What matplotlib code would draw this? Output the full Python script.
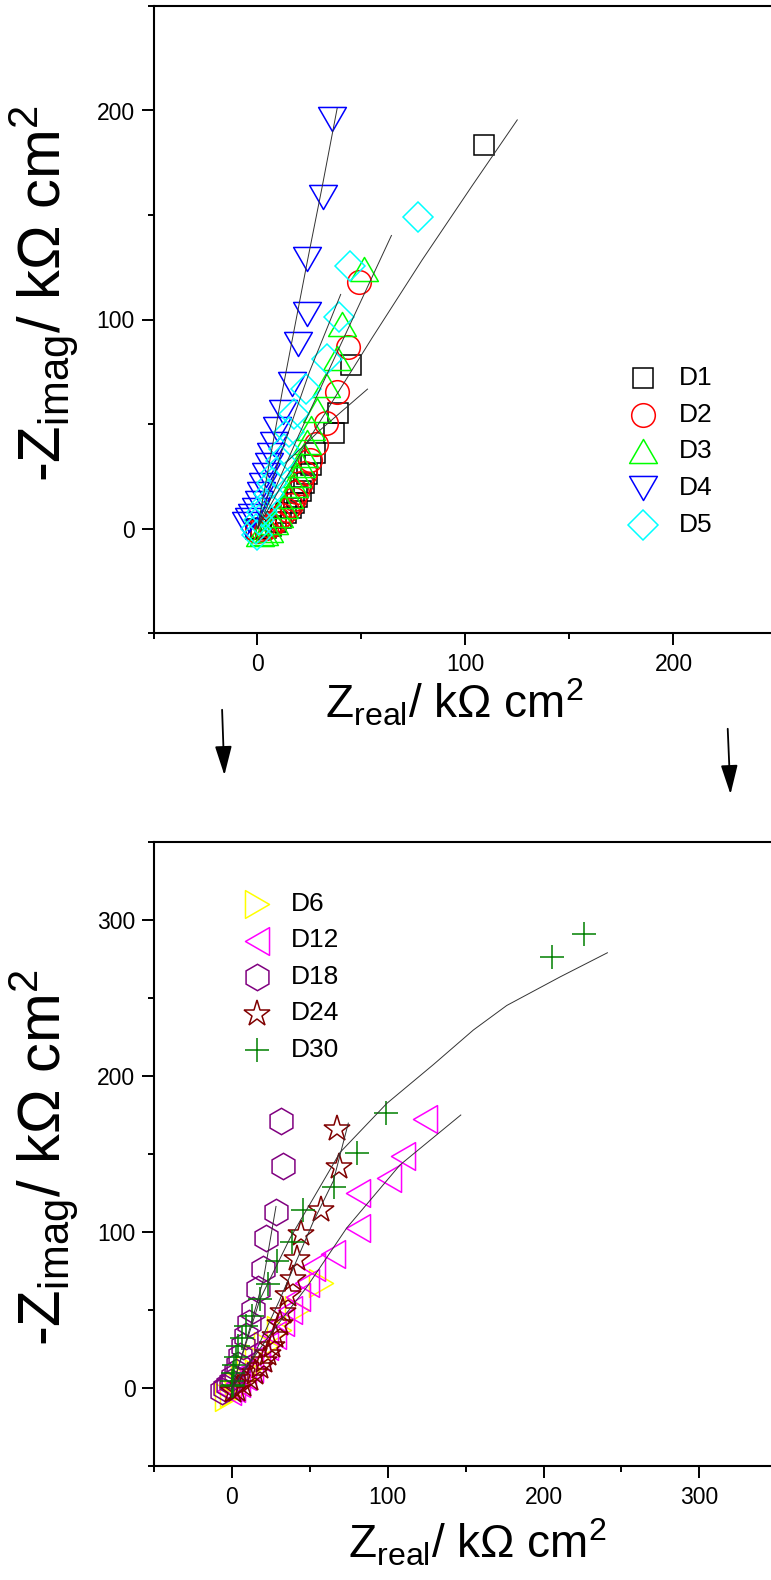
import matplotlib

matplotlib.use("Agg")
import matplotlib.pyplot as plt
from matplotlib.path import Path

plt.rcParams["font.family"] = ["Liberation Sans", "DejaVu Sans"]
plt.rcParams["mathtext.fontset"] = "custom"
plt.rcParams["mathtext.rm"] = "Liberation Sans"
plt.rcParams["mathtext.it"] = "Liberation Sans:italic"
plt.rcParams["mathtext.bf"] = "Liberation Sans:bold"

# ---------------------------------------------------------------------------
# top panel, days 1-5 (kOhm cm2)
D1_x = [108.8, 44.9, 38.5, 36.6, 27.6, 25.6, 24.0, 22.4, 20.8, 19.2, 17.6, 16.0, 13.6, 11.2, 8.8, 6.4, 4.0, 1.6, -0.8]
D1_y = [183.7, 78.4, 55.5, 45.7, 35.9, 30.4, 25.9, 21.6, 18.0, 15.1, 12.4, 9.8, 7.3, 4.9, 2.9, 1.4, 0.4, -0.2, -0.4]
D2_x = [48.7, 43.5, 38.3, 32.7, 28.0, 25.2, 22.7, 20.8, 19.2, 17.6, 16.0, 14.0, 12.0, 10.0, 8.0, 6.0, 4.0, 2.0, 0.0]
D2_y = [117.8, 86.9, 65.3, 50.4, 40.2, 32.7, 26.5, 21.6, 17.6, 14.3, 11.4, 8.8, 6.5, 4.5, 2.8, 1.4, 0.4, -0.4, -1.0]
D3_x = [51.1, 40.7, 38.3, 32.7, 28.8, 25.9, 24.0, 22.4, 20.8, 19.2, 17.6, 15.2, 12.8, 10.4, 8.0, 5.6, 3.0, 1.0]
D3_y = [124.1, 98.0, 81.4, 68.6, 56.9, 48.0, 41.2, 35.3, 30.4, 25.5, 20.6, 15.7, 10.8, 6.5, 2.9, -0.6, -2.0, -2.5]
D4_x = [35.8, 31.5, 24.0, 24.0, 19.5, 16.5, 12.1, 9.6, 8.0, 6.5, 5.3, 4.0, 2.7, 1.8, 0.8, -0.5, -2.4, -4.0, -5.3]
D4_y = [196.1, 158.4, 129.0, 102.5, 88.2, 69.2, 55.9, 47.6, 40.6, 35.3, 30.4, 25.5, 20.6, 16.3, 12.4, 8.8, 5.9, 3.9, 2.0]
D5_x = [77.2, 44.6, 39.1, 33.5, 23.2, 17.6, 15.2, 12.8, 11.2, 8.8, 7.2, 5.6, 4.0, 2.4, 0.8, -0.8, 0.0]
D5_y = [149.0, 125.5, 101.4, 81.0, 66.7, 54.9, 46.1, 38.2, 32.4, 26.5, 21.6, 16.7, 11.8, 7.8, 3.9, 0.0, -3.0]

# fitted curves drawn through the top panel
F1_x = [0.0, 10.4, 23.2, 39.1, 55.1, 79.1, 103.0, 124.9]
F1_y = [0.0, 18.6, 40.2, 65.7, 91.2, 128.4, 163.7, 195.5]
F3_x = [0.0, 20.0, 40.0, 64.4]
F3_y = [0.0, 45.0, 88.0, 140.2]
F2_x = [13.6, 30.0, 52.9]
F2_y = [31.4, 47.0, 66.7]
F4_x = [0.0, 4.0, 12.0, 24.0, 31.0, 38.3]
F4_y = [0.0, 22.0, 66.0, 128.0, 163.0, 201.0]
F5_x = [0.0, 12.0, 25.0, 40.0]
F5_y = [0.0, 38.0, 75.0, 112.0]

# bottom panel, days 6-30
D6_x = [57.2, 42.0, 30.0, 22.0, 16.0, 11.0, 7.0, 3.0, 0.0, -3.0]
D6_y = [67.2, 50.0, 37.0, 27.0, 19.0, 12.0, 6.0, 1.0, -3.0, -6.0]
D12_x = [124.0, 110.0, 100.9, 81.2, 81.2, 64.7, 52.2, 48.0, 42.6, 37.3, 32.0, 27.0, 22.0, 17.0, 12.0, 8.0, 4.0, 1.0, -2.0]
D12_y = [172.7, 148.4, 134.7, 125.3, 102.6, 86.1, 77.7, 67.2, 58.1, 50.2, 42.0, 34.0, 27.0, 20.0, 13.0, 8.0, 3.0, 0.0, -2.0]
D18_x = [31.5, 32.5, 28.3, 21.8, 20.1, 16.7, 13.7, 10.9, 9.0, 7.3, 5.5, 4.0, 2.5, 1.0, -0.5, -2.4, -4.5, -6.6]
D18_y = [170.9, 142.6, 113.0, 96.0, 76.4, 63.3, 50.2, 41.6, 33.2, 26.7, 20.5, 15.0, 10.5, 7.0, 4.0, 1.8, 0.0, -2.0]
D24_x = [67.7, 69.0, 57.2, 44.1, 41.8, 39.4, 36.2, 32.5, 30.8, 27.6, 25.5, 23.3, 20.6, 18.0, 14.8, 11.6, 7.3, 3.0, 0.5]
D24_y = [165.9, 141.5, 114.3, 98.6, 82.9, 69.9, 59.4, 48.9, 41.1, 33.2, 26.7, 21.5, 17.5, 13.6, 9.7, 5.8, 1.8, -1.0, -2.0]
D30_x = [226.0, 205.6, 98.9, 80.5, 65.5, 45.8, 38.3, 28.7, 23.3, 18.0, 12.6, 9.0, 6.2, 4.1, 2.6, 1.3, 0.4, -0.2, 0.0, 1.0]
D30_y = [291.0, 276.0, 176.6, 150.4, 128.7, 114.3, 93.4, 81.1, 66.7, 56.8, 46.3, 39.8, 31.9, 26.7, 20.1, 14.9, 9.7, 4.4, 1.0, 2.0]

G30_x = [0.0, 18.0, 37.3, 69.4, 99.4, 129.3, 155.0, 176.4, 210.6, 241.0]
G30_y = [0.0, 56.8, 96.0, 151.0, 182.4, 207.3, 229.5, 245.2, 263.5, 279.0]
G12_x = [0.0, 25.0, 48.0, 73.7, 107.9, 146.9]
G12_y = [0.0, 35.0, 64.6, 102.6, 143.0, 175.0]
G24_x = [0.0, 13.7, 30.0, 52.2, 65.1, 74.7]
G24_y = [0.0, 20.0, 55.0, 106.5, 132.7, 169.8]
G18_x = [0.0, 10.0, 20.1, 28.3]
G18_y = [0.0, 33.0, 69.0, 116.4]

TOP_LABELS = ["D1", "D2", "D3", "D4", "D5"]
BOT_LABELS = ["D6", "D12", "D18", "D24", "D30"]


# Origin-style equilateral triangles (wider than matplotlib's ^)
def tri(rot):
    h = 0.433
    pts = {"up": [(-0.5, -h), (0.5, -h), (0.0, h)],
           "down": [(-0.5, h), (0.5, h), (0.0, -h)],
           "right": [(-h, 0.5), (-h, -0.5), (h, 0.0)],
           "left": [(h, 0.5), (h, -0.5), (-h, 0.0)]}[rot]
    return Path(pts + [pts[0]], [Path.MOVETO, Path.LINETO, Path.LINETO, Path.CLOSEPOLY])


TOP_STYLE = [
    dict(marker="s", color="black", ms=15),
    dict(marker="o", color="#FF0000", ms=17),
    dict(marker=tri("up"), color="#00FF00", ms=20),
    dict(marker=tri("down"), color="#0000FF", ms=20),
    dict(marker="D", color="#00FFFF", ms=15),
]
BOT_STYLE = [
    dict(marker=tri("right"), color="#FFFF00", ms=20),
    dict(marker=tri("left"), color="#FF00FF", ms=20),
    dict(marker="h", color="#800080", ms=19),
    dict(marker="*", color="#800000", ms=20),
    dict(marker="+", color="#008000", ms=17),
]


def draw_series(ax, x, y, st):
    ax.plot(x, y, ls="none", marker=st["marker"], ms=st["ms"], mfc="none",
            mec=st["color"], mew=1.1)


def draw_fit(ax, x, y):
    ax.plot(x, y, color="#333333", lw=0.7)


def manual_legend(ax, labels, styles, xm, xt, y0, dy):
    for i, (lab, st) in enumerate(zip(labels, styles)):
        y = y0 - i * dy
        ax.plot([xm], [y], transform=ax.transAxes, ls="none", marker=st["marker"],
                ms=st["ms"], mfc="none", mec=st["color"], mew=1.1, clip_on=False)
        ax.text(xt, y, lab, transform=ax.transAxes, fontsize=19, va="center", ha="left")


def style_axes(ax, xlim, ylim, major):
    ax.set_xlim(*xlim)
    ax.set_ylim(*ylim)
    ax.spines["right"].set_visible(False)
    for s in ("left", "bottom", "top"):
        ax.spines[s].set_linewidth(1.5)
    ax.xaxis.set_major_locator(plt.MultipleLocator(major))
    ax.xaxis.set_minor_locator(plt.MultipleLocator(major / 2))
    ax.yaxis.set_major_locator(plt.MultipleLocator(major))
    ax.yaxis.set_minor_locator(plt.MultipleLocator(major / 2))
    ax.tick_params(which="major", direction="out", length=8.4, width=1.4,
                   labelsize=16.5, top=False, right=False)
    ax.tick_params(which="minor", direction="out", length=4.2, width=1.4,
                   top=False, right=False)
    ax.tick_params(axis="y", which="major", pad=5)
    ax.tick_params(axis="x", which="major", pad=6)
    ax.set_xticks([v for v in ax.get_xticks() if xlim[0] < v < xlim[1] - 20])
    ax.set_yticks([v for v in ax.get_yticks() if ylim[0] < v < ylim[1]])


W, H = 771, 1580
fig = plt.figure(figsize=(W / 100, H / 100), dpi=100)

ax1 = fig.add_axes([153.5 / W, 1 - 633 / H, (W - 153.5) / W, 627 / H])
ax2 = fig.add_axes([154 / W, 1 - 1466 / H, (W - 154) / W, 624 / H])

tops = [(D1_x, D1_y), (D2_x, D2_y), (D3_x, D3_y), (D4_x, D4_y), (D5_x, D5_y)]
for (x, y), st in zip(tops, TOP_STYLE):
    draw_series(ax1, x, y, st)
for fx, fy in [(F1_x, F1_y), (F2_x, F2_y), (F3_x, F3_y), (F4_x, F4_y), (F5_x, F5_y)]:
    draw_fit(ax1, fx, fy)

bots = [(D6_x, D6_y), (D12_x, D12_y), (D18_x, D18_y), (D24_x, D24_y), (D30_x, D30_y)]
for (x, y), st in zip(bots, BOT_STYLE):
    draw_series(ax2, x, y, st)
for fx, fy in [(G30_x, G30_y), (G12_x, G12_y), (G24_x, G24_y), (G18_x, G18_y)]:
    draw_fit(ax2, fx, fy)

style_axes(ax1, (-50, 246.9), (-50, 250), 100)
style_axes(ax2, (-50, 346), (-50, 350), 100)

manual_legend(ax1, TOP_LABELS, TOP_STYLE, 0.7935, 0.851, (633 - 378) / 627, 36.7 / 627)
manual_legend(ax2, BOT_LABELS, BOT_STYLE, 0.167, 0.222, (1466 - 904) / 624, 36.5 / 624)

xlab = r"Z$_{\mathrm{real}}$/ k$\Omega$ cm$^{2}$"
ylab = r"-Z$_{\mathrm{imag}}$/ k$\Omega$ cm$^{2}$"
fig.text(454.5 / W, 1 - 718 / H, xlab, fontsize=33, ha="center", va="baseline")
fig.text(477 / W, 1 - 1559 / H, xlab, fontsize=33, ha="center", va="baseline")
fig.text(44 / W, 1 - 294 / H, ylab, fontsize=43, rotation=90, ha="center", va="center")
fig.text(44 / W, 1 - 1158 / H, ylab, fontsize=43, rotation=90, ha="center", va="center")

# arrows linking the two panels
for tail, tip in [((222, H - 707), (224.5, H - 778)), ((727.6, H - 726), (730.6, H - 797))]:
    fig.add_artist(matplotlib.patches.FancyArrowPatch(
        tail, tip, transform=None, arrowstyle="-|>,head_length=9,head_width=2.6",
        color="black", lw=1.3, mutation_scale=2))

fig.savefig("out.png", dpi=100)
